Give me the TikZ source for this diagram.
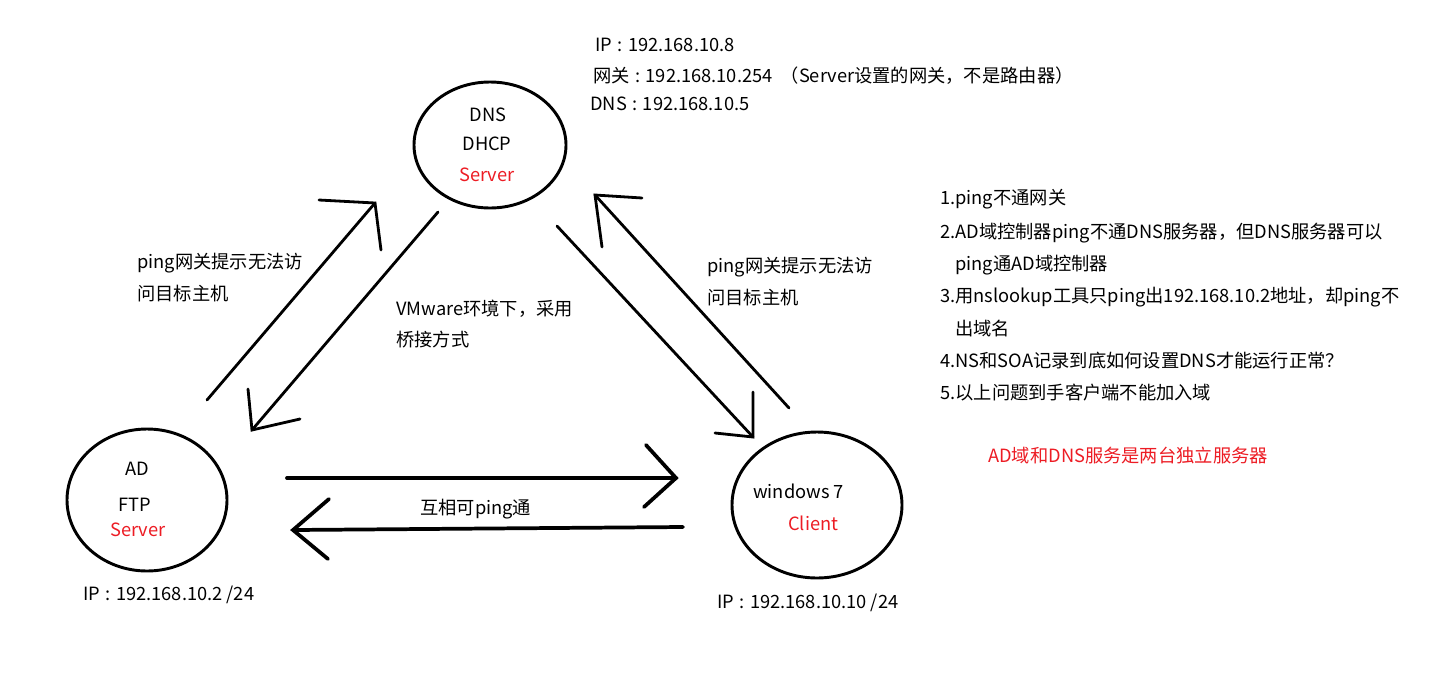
\documentclass[tikz,border=0pt]{standalone}
\usepackage{fontspec}
\setmainfont{Noto Sans CJK SC}
\usetikzlibrary{shapes.geometric}
\definecolor{pred}{RGB}{237,28,36}
\newcommand{\fwcolon}{\hspace{0.3em}:\hspace{0.3em}}
\begin{document}
\begin{tikzpicture}[x=0.75pt,y=-0.75pt,
  host/.style={draw,ellipse,line width=2.2pt,inner sep=0pt},
  txt/.style={font=\fontsize{13.7}{16}\selectfont,inner sep=0pt,anchor=west},
  ctxt/.style={font=\fontsize{13.7}{16}\selectfont,inner sep=0pt},
  redtxt/.style={text=pred},
  wire/.style={line width=2.1pt,line cap=round,line join=miter},
  hwire/.style={line width=2.8pt,line cap=round,line join=miter}]
\useasboundingbox[fill=white] (0,0) rectangle (1438,672);

% hosts
\node[host,minimum width=114pt,minimum height=94.5pt] (srv) at (490,145) {};
\node[host,minimum width=120pt,minimum height=106.5pt] (ad) at (147,500) {};
\node[host,minimum width=127.5pt,minimum height=109.5pt] (cli) at (817,505) {};

% host labels
\node[ctxt] (srv1) at (488,115) {DNS};
\node[ctxt] (srv2) at (487,144) {DHCP};
\node[ctxt,redtxt] (srv3) at (487,175) {Server};
\node[ctxt] (ad1) at (137,469) {AD};
\node[ctxt] (ad2) at (135,505) {FTP};
\node[ctxt,redtxt] (ad3) at (138,530) {Server};
\node[txt] (cli1) at (753,491) {windows 7};
\node[txt,redtxt] (cli2) at (788,523) {Client};

% IP labels
\node[txt] (ip1) at (595,45) {IP\fwcolon 192.168.10.8};
\node[txt] (ip2) at (593,76) {网关\fwcolon 192.168.10.254 \ （Server设置的网关，不是路由器）};
\node[txt] (ip3) at (590,104) {DNS\fwcolon 192.168.10.5};
\node[txt] (ipad) at (83,595) {IP\fwcolon 192.168.10.2 /24};
\node[txt] (ipcli) at (717,603) {IP\fwcolon 192.168.10.10 /24};

% connector labels
\node[txt] (l1a) at (137,263) {ping网关提示无法访};
\node[txt] (l1b) at (137,294) {问目标主机};
\node[txt] (l2a) at (396,309) {VMware环境下，采用};
\node[txt] (l2b) at (396,340) {桥接方式};
\node[txt] (l3a) at (707,267) {ping网关提示无法访};
\node[txt] (l3b) at (707,298) {问目标主机};
\node[txt] (l4) at (420,509) {互相可ping通};

% notes
\node[txt] (n1) at (940,199) {1.ping不通网关};
\node[txt] (n2) at (940,233) {2.AD域控制器ping不通DNS服务器，但DNS服务器可以};
\node[txt] (n2b) at (955,265) {ping通AD域控制器};
\node[txt] (n3) at (940,297) {3.用nslookup工具只ping出192.168.10.2地址，却ping不};
\node[txt] (n3b) at (955,329) {出域名};
\node[txt] (n4) at (940,361) {4.NS和SOA记录到底如何设置DNS才能运行正常？};
\node[txt] (n5) at (940,393) {5.以上问题到手客户端不能加入域};
\node[txt,redtxt] (n6) at (988,456) {AD域和DNS服务是两台独立服务器};

% arrow coordinates
\coordinate (a1t) at (207,400); \coordinate (a1h) at (375,203);
\coordinate (a1p) at (319,200); \coordinate (a1q) at (381,250);
\coordinate (a2t) at (438,212); \coordinate (a2h) at (252,430);
\coordinate (a2p) at (248,389); \coordinate (a2q) at (300,419);
\coordinate (a3t) at (789,408); \coordinate (a3h) at (595,195);
\coordinate (a3p) at (642,198); \coordinate (a3q) at (602,247);
\coordinate (a4t) at (557,226); \coordinate (a4h) at (753,437);
\coordinate (a4p) at (753,392); \coordinate (a4q) at (715,433);
\coordinate (a5t) at (287,478); \coordinate (a5h) at (676,478);
\coordinate (a5p) at (646,445); \coordinate (a5q) at (644,507);
\coordinate (a6t) at (683,527); \coordinate (a6h) at (293,530);
\coordinate (a6p) at (329,499); \coordinate (a6q) at (328,559);

% arrows
\draw[wire] (a1t) -- (a1h);
\draw[wire] (a1p) -- (a1h) -- (a1q);
\draw[wire] (a2t) -- (a2h);
\draw[wire] (a2p) -- (a2h) -- (a2q);
\draw[wire] (a3t) -- (a3h);
\draw[wire] (a3p) -- (a3h) -- (a3q);
\draw[wire] (a4t) -- (a4h);
\draw[wire] (a4p) -- (a4h) -- (a4q);
\draw[hwire] (a5t) -- (a5h);
\draw[hwire] (a5p) -- (a5h) -- (a5q);
\draw[hwire] (a6t) -- (a6h);
\draw[hwire] (a6p) -- (a6h) -- (a6q);
\end{tikzpicture}
\end{document}
